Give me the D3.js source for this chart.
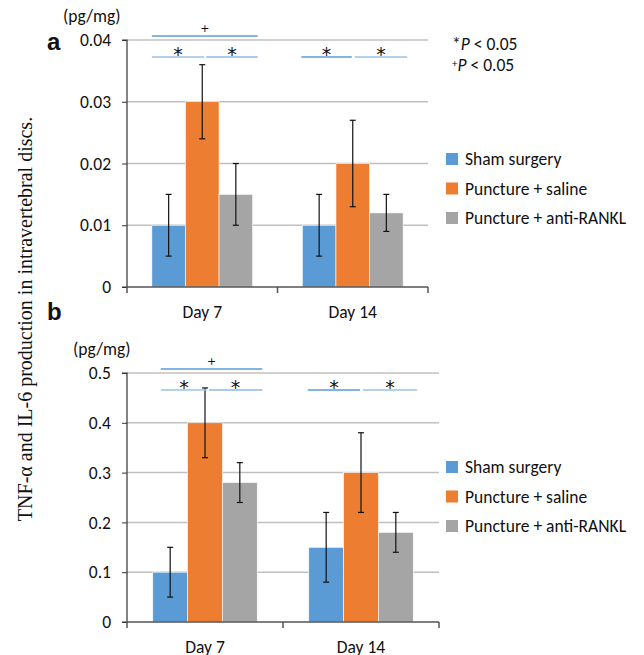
<!DOCTYPE html>
<html><head><meta charset="utf-8">
<script src="https://cdn.jsdelivr.net/npm/d3@7"></script>
<style>body{margin:0;background:#fff}svg{display:block}</style>
</head><body><svg id="c" width="644" height="655"></svg>
<script>
const categories = ["Day 7", "Day 14"];
const seriesNames = ["Sham surgery", "Puncture + saline", "Puncture + anti-RANKL"];
const colors = ["#5b9bd5", "#ed7d31", "#a5a5a5"];
// Panel a (TNF-α)
const aValues = [[0.010, 0.030, 0.015], [0.010, 0.020, 0.012]];
const aLow = [[0.005, 0.024, 0.010], [0.005, 0.013, 0.009]];
const aHigh = [[0.015, 0.036, 0.020], [0.015, 0.027, 0.015]];
const aTicks = [0, 0.01, 0.02, 0.03, 0.04];
const aTickLabels = ["0", "0.01", "0.02", "0.03", "0.04"];
// Panel b (IL-6)
const bValues = [[0.10, 0.40, 0.28], [0.15, 0.30, 0.18]];
const bLow = [[0.05, 0.33, 0.24], [0.08, 0.22, 0.14]];
const bHigh = [[0.15, 0.47, 0.32], [0.22, 0.38, 0.22]];
const bTicks = [0, 0.1, 0.2, 0.3, 0.4, 0.5];
const bTickLabels = ["0", "0.1", "0.2", "0.3", "0.4", "0.5"];

const svg = d3.select("#c");
const sans = "Carlito, Calibri, Lato, 'Open Sans', sans-serif";
const FS = 17.5;

function panel(o) {
  const g = svg.append("g");
  const x0 = d3.scaleBand().domain(categories).range([o.left, o.right]).paddingInner(0).paddingOuter(0);
  const x1 = d3.scaleBand().domain(d3.range(3)).range([0, x0.bandwidth()]).paddingInner(0).paddingOuter(0.74);
  const y = d3.scaleLinear().domain([0, o.ticks[o.ticks.length - 1]]).range([o.bottom, o.top]);
  g.selectAll(".grid").data(o.ticks.slice(1)).join("line")
    .attr("x1", o.left).attr("x2", o.right).attr("y1", d => y(d)).attr("y2", d => y(d))
    .attr("stroke", "#c0c0c0").attr("stroke-width", 1.5);
  const ya = d3.axisLeft(y).tickValues(o.ticks).tickFormat((d, i) => o.labels[i]).tickSize(5).tickPadding(11);
  const yg = g.append("g").attr("transform", `translate(${o.left},0)`).call(ya);
  yg.select(".domain").attr("stroke", "#333").attr("stroke-width", 1.2).attr("d", `M-5,${o.top}H0V${o.bottom}H-5`);
  yg.selectAll(".tick line").attr("stroke", "#333");
  yg.selectAll("text").attr("font-family", sans).attr("font-size", FS).attr("fill", "#111");
  categories.forEach((c, ci) => {
    const gg = g.append("g").attr("transform", `translate(${x0(c)},0)`);
    gg.selectAll("rect").data(o.values[ci]).join("rect")
      .attr("x", (d, i) => x1(i)).attr("width", x1.bandwidth())
      .attr("y", d => y(d)).attr("height", d => y(0) - y(d))
      .attr("fill", (d, i) => colors[i]).attr("stroke", "#fff").attr("stroke-width", 0.6);
    o.values[ci].forEach((v, i) => {
      const cx = x1(i) + x1.bandwidth() / 2;
      const lo = y(o.low[ci][i]), hi = y(o.high[ci][i]);
      gg.append("line").attr("x1", cx).attr("x2", cx).attr("y1", lo).attr("y2", hi).attr("stroke", "#111").attr("stroke-width", 1.2);
      [lo, hi].forEach(yy => gg.append("line").attr("x1", cx - 3).attr("x2", cx + 3).attr("y1", yy).attr("y2", yy).attr("stroke", "#111").attr("stroke-width", 1.2));
    });
  });
  const xa = d3.axisBottom(x0).tickSize(0).tickPadding(19);
  const xg = g.append("g").attr("transform", `translate(0,${o.bottom})`).call(xa);
  xg.select(".domain").attr("stroke", "#555").attr("stroke-width", 1.5).attr("d", `M${o.left},0H${o.right}`);
  xg.selectAll("text").attr("font-family", sans).attr("font-size", FS).attr("fill", "#111").attr("dy", "0.71em");
  [o.left, o.left + x0.bandwidth(), o.right].forEach(xx =>
    xg.append("line").attr("x1", xx).attr("x2", xx).attr("y1", 0).attr("y2", 6).attr("stroke", "#555").attr("stroke-width", 1.5));
  g.append("text").attr("x", o.unitX).attr("y", o.top - 18).attr("font-family", sans).attr("font-size", FS).attr("fill", "#111").text("(pg/mg)");
  g.append("text").attr("x", 47).attr("y", o.letterY).attr("font-family", "'Liberation Sans', Arial, sans-serif").attr("font-weight", "bold").attr("font-size", 24).attr("fill", "#111").text(o.letter);
  const bx = (ci, i) => x0(categories[ci]) + x1(i);
  const bw = x1.bandwidth();
  const sig = (xa_, xb_, yy, col, sym, fs, dy) => {
    g.append("line").attr("x1", xa_).attr("x2", xb_).attr("y1", yy).attr("y2", yy).attr("stroke", col).attr("stroke-width", 1.5);
    g.append("text").attr("x", (xa_ + xb_) / 2).attr("y", yy - dy).attr("text-anchor", "middle").attr("font-family", "'DejaVu Sans', sans-serif").attr("font-size", fs).attr("fill", "#111").text(sym);
  };
  const plusY = o.top - 4, starY = o.top + 17;
  sig(bx(0, 0) + o.sigShift, bx(0, 2) + bw + 5, plusY, "#5b9bd5", "+", 11, 4);
  sig(bx(0, 0) + o.sigShift, bx(0, 1) + bw / 2 + 2, starY, "#9dc3e6", "*", 19, -4);
  sig(bx(0, 1) + bw / 2 + 4, bx(0, 2) + bw + 5, starY, "#8db8e2", "*", 19, -4);
  sig(bx(1, 0) - 1, bx(1, 1) + bw / 2 - 1, starY, "#5b9bd5", "*", 19, -4);
  sig(bx(1, 1) + bw / 2 + 2, bx(1, 2) + bw + 4, starY, "#9dc3e6", "*", 19, -4);
  const lg = g.append("g").attr("transform", `translate(446,${o.legendY})`);
  seriesNames.forEach((s, i) => {
    lg.append("rect").attr("x", 0).attr("y", i * 29.5 - 6).attr("width", 12).attr("height", 12).attr("fill", colors[i]);
    lg.append("text").attr("x", 19).attr("y", i * 29.5).attr("dy", "0.35em").attr("font-family", sans).attr("font-size", FS).attr("fill", "#111").text(s);
  });
}

panel({ left: 127, right: 428, top: 40, bottom: 287, ticks: aTicks, labels: aTickLabels,
  values: aValues, low: aLow, high: aHigh, letter: "a", letterY: 50, unitX: 63, legendY: 159, sigShift: 0 });
panel({ left: 127, right: 439, top: 373, bottom: 622, ticks: bTicks, labels: bTickLabels,
  values: bValues, low: bLow, high: bHigh, letter: "b", letterY: 320, unitX: 73, legendY: 467, sigShift: 8 });

const notes = [["*", "P", " < 0.05", 50], ["+", "P", " < 0.05", 71]];
notes.forEach(n => {
  const t = svg.append("text").attr("x", 452).attr("y", n[3]).attr("font-family", sans).attr("font-size", FS).attr("fill", "#111");
  t.append("tspan").attr("font-size", n[0] === "*" ? FS : 11).attr("dy", n[0] === "*" ? 0 : -4).text(n[0]);
  t.append("tspan").attr("font-style", "italic").attr("dy", n[0] === "*" ? 0 : 4).text(n[1]);
  t.append("tspan").text(n[2]);
});

svg.append("text").attr("transform", "translate(32,319) rotate(-90)").attr("text-anchor", "middle")
  .attr("font-family", "'Liberation Serif', 'Times New Roman', serif").attr("font-size", 20).attr("fill", "#111")
  .text("TNF-α and IL-6 production in intravertebral discs.");
</script></body></html>
